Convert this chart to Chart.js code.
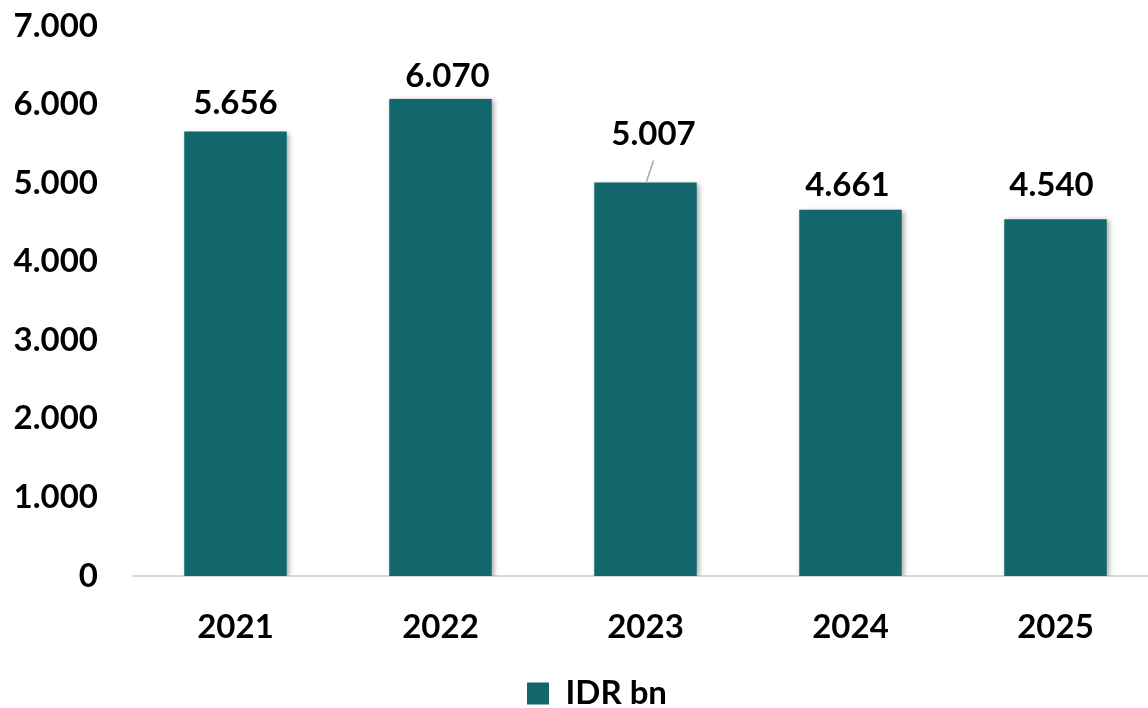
<!DOCTYPE html>
<html lang="en">
<head>
<meta charset="UTF-8">
<title>IDR bn</title>
<script src="https://cdn.jsdelivr.net/npm/chart.js@4"></script>
<style>
  html, body { margin: 0; padding: 0; overflow: hidden; background: #fff; }
</style>
</head>
<body>
<canvas id="chart" width="1158" height="720"></canvas>
<script>
const years = ['2021', '2022', '2023', '2024', '2025'];
const idrBn = [5656, 6070, 5007, 4661, 4540];
const seriesName = 'IDR bn';

// label placement (pixels above bar top / sideways nudge), like the excel labels
const labelRise = [28, 23, 48, 24, 34];
const labelShift = [0, 7, 8, -3, -4];
const labelLeader = [false, false, true, false, false];

const teal = '#13676C';
const fontFam = 'Lato, "Open Sans", sans-serif';
const fontSize = 33;

function dots(v) {
  return String(v).replace(/\B(?=(\d{3})+(?!\d))/g, '.');
}

const barShadow = {
  id: 'barShadow',
  beforeDatasetDraw(chart) {
    const c = chart.ctx;
    c.save();
    c.shadowColor = 'rgba(0,0,0,0.35)';
    c.shadowBlur = 5;
    c.shadowOffsetX = 2;
    c.shadowOffsetY = 1;
  },
  afterDatasetDraw(chart) {
    chart.ctx.restore();
  }
};

// legend in the original sits a bit right of the canvas centre
const legendNudge = {
  id: 'legendNudge',
  afterLayout(chart) {
    chart.legend.left += 18;
    chart.legend.right += 18;
  }
};

const valueLabels = {
  id: 'valueLabels',
  afterDatasetsDraw(chart) {
    const c = chart.ctx;
    const bars = chart.getDatasetMeta(0).data;
    c.save();
    c.font = 'bold ' + fontSize + 'px ' + fontFam;
    c.fillStyle = '#000';
    c.textAlign = 'center';
    c.textBaseline = 'middle';
    bars.forEach((b, i) => {
      const tx = b.x + labelShift[i];
      const ty = b.y - labelRise[i];
      c.fillText(dots(idrBn[i]), tx, ty);
      if (labelLeader[i]) {
        c.beginPath();
        c.strokeStyle = '#a6a6a6';
        c.lineWidth = 1.5;
        c.moveTo(tx, ty + 26);
        c.lineTo(b.x + 1, b.y - 1);
        c.stroke();
      }
    });
    c.restore();
  }
};

new Chart(document.getElementById('chart'), {
  type: 'bar',
  data: {
    labels: years,
    datasets: [{
      label: seriesName,
      data: idrBn,
      backgroundColor: teal,
      borderWidth: 0,
      categoryPercentage: 0.5,
      barPercentage: 1
    }]
  },
  options: {
    responsive: false,
    animation: false,
    layout: { padding: { left: 0, top: 26, right: 0, bottom: 0 } },
    plugins: {
      tooltip: { enabled: false },
      legend: {
        position: 'bottom',
        labels: {
          boxWidth: 22,
          boxHeight: 22,
          padding: 10,
          color: '#000',
          font: { family: fontFam, size: fontSize, weight: 'bold' }
        }
      }
    },
    scales: {
      x: {
        grid: { display: false },
        border: { display: true, color: '#d9d9d9', width: 2 },
        ticks: {
          color: '#000',
          padding: 24,
          font: { family: fontFam, size: fontSize, weight: 'bold' }
        },
        afterFit(s) { s.height = 91; }
      },
      y: {
        min: 0,
        max: 7000,
        grid: { display: false, drawTicks: true, tickLength: 32 },
        border: { display: false },
        ticks: {
          stepSize: 1000,
          color: '#000',
          padding: 3,
          font: { family: fontFam, size: fontSize, weight: 'bold' },
          callback: v => dots(v)
        },
        afterFit(s) { s.width = 133; }
      }
    }
  },
  plugins: [barShadow, legendNudge, valueLabels]
});
</script>
</body>
</html>
